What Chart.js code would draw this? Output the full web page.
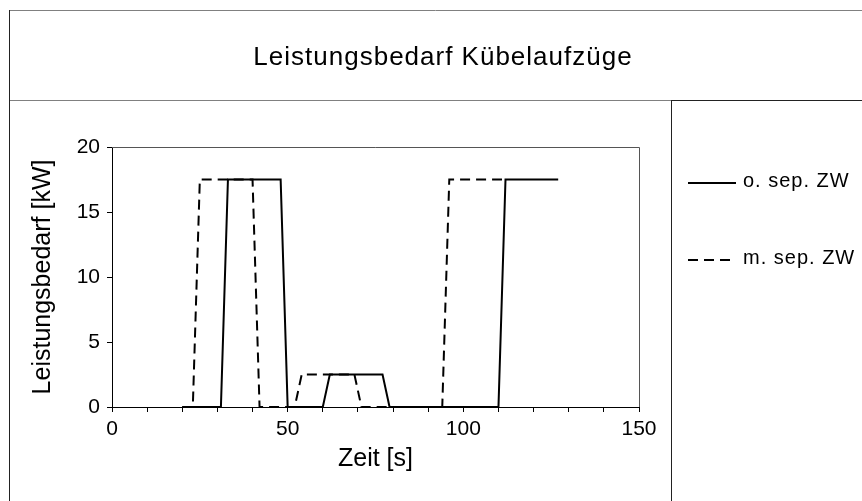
<!DOCTYPE html>
<html>
<head>
<meta charset="utf-8">
<script src="https://cdn.jsdelivr.net/npm/chart.js@4"></script>
<style>
  html, body { margin: 0; padding: 0; background: #fff; }
  canvas { display: block; }
</style>
</head>
<body>
<canvas id="powerChart" width="862" height="501"></canvas>
<script>
// values
const chartTitle = 'Leistungsbedarf Kübelaufzüge';
const seriesNames = ['o. sep. ZW', 'm. sep. ZW'];
const timeWithout = [20, 31, 33, 48, 50, 60, 62, 77, 79, 110, 112, 127];
const powerWithout = [0, 0, 17.5, 17.5, 0, 0, 2.5, 2.5, 0, 0, 17.5, 17.5];
const timeWith = [20, 23, 25, 40, 42, 52, 54, 69, 71, 94, 96, 111];
const powerWith = [0, 0, 17.5, 17.5, 0, 0, 2.5, 2.5, 0, 0, 17.5, 17.5];
const xTickLabels = [0, 50, 100, 150];
const yTicks = [0, 5, 10, 15, 20];

const fontFamily = "'Liberation Sans', Arial, sans-serif";

function toPoints(xs, ys) {
  return xs.map((x, i) => ({ x: x, y: ys[i] }));
}

// frame boxes, title, plot border and legend like the Excel export
const framePlugin = {
  id: 'frame',
  beforeDraw(chart) {
    const ctx = chart.ctx;
    ctx.save();
    ctx.fillStyle = '#fff';
    ctx.fillRect(0, 0, chart.width, chart.height);
    ctx.lineWidth = 1;
    ctx.strokeStyle = '#808080';
    ctx.beginPath();
    ctx.moveTo(9, 10.5); ctx.lineTo(chart.width, 10.5);
    ctx.moveTo(9, 100.5); ctx.lineTo(671, 100.5);
    ctx.stroke();
    ctx.strokeStyle = '#222';
    ctx.beginPath();
    ctx.moveTo(671, 100.5); ctx.lineTo(chart.width, 100.5);
    ctx.moveTo(9.5, 10); ctx.lineTo(9.5, chart.height);
    ctx.moveTo(671.5, 100); ctx.lineTo(671.5, chart.height);
    ctx.stroke();

    ctx.fillStyle = '#000';
    ctx.font = '26px ' + fontFamily;
    ctx.letterSpacing = '1px';
    ctx.textAlign = 'center';
    ctx.textBaseline = 'middle';
    ctx.fillText(chartTitle, 443, 58);
    ctx.restore();
  },
  afterDatasetsDraw(chart) {
    const ctx = chart.ctx;
    const a = chart.chartArea;
    ctx.save();
    ctx.strokeStyle = '#555';
    ctx.lineWidth = 1;
    ctx.beginPath();
    ctx.moveTo(a.left, Math.round(a.top) + 0.5);
    ctx.lineTo(Math.round(a.right) + 0.5, Math.round(a.top) + 0.5);
    ctx.lineTo(Math.round(a.right) + 0.5, a.bottom);
    ctx.stroke();

    // legend in the right hand box
    const rows = [183, 260];
    chart.data.datasets.forEach((ds, i) => {
      const y = rows[i];
      ctx.strokeStyle = ds.borderColor;
      ctx.lineWidth = ds.borderWidth;
      ctx.setLineDash(ds.borderDash || []);
      ctx.beginPath();
      ctx.moveTo(688, y);
      ctx.lineTo(736, y);
      ctx.stroke();
      ctx.setLineDash([]);
      ctx.fillStyle = '#000';
      ctx.font = '20px ' + fontFamily;
      ctx.letterSpacing = '1px';
      ctx.textAlign = 'left';
      ctx.textBaseline = 'middle';
      ctx.fillText(ds.label, 743, y - 2);
    });
    ctx.restore();
  }
};

new Chart(document.getElementById('powerChart'), {
  type: 'line',
  data: {
    datasets: [
      {
        label: seriesNames[0],
        data: toPoints(timeWithout, powerWithout),
        borderColor: '#000',
        borderWidth: 2,
        pointRadius: 0,
        tension: 0,
        fill: false
      },
      {
        label: seriesNames[1],
        data: toPoints(timeWith, powerWith),
        borderColor: '#000',
        borderWidth: 2,
        borderDash: [10, 6],
        pointRadius: 0,
        tension: 0,
        fill: false
      }
    ]
  },
  options: {
    responsive: false,
    animation: false,
    events: [],
    layout: { padding: { left: 12, right: 223, top: 147, bottom: 14 } },
    plugins: {
      legend: { display: false },
      title: { display: false },
      tooltip: { enabled: false }
    },
    scales: {
      x: {
        type: 'linear',
        min: 0,
        max: 150,
        afterFit: s => { s.height = 80; },
        border: { display: true, color: '#000', width: 1 },
        grid: { drawOnChartArea: false, drawTicks: true, tickLength: 5, color: '#000' },
        ticks: {
          stepSize: 10,
          autoSkip: false,
          maxRotation: 0,
          padding: 5,
          color: '#000',
          font: { family: fontFamily, size: 21 },
          callback: v => xTickLabels.includes(v) ? String(v) : ''
        },
        title: {
          display: true,
          text: 'Zeit [s]',
          color: '#000',
          font: { family: fontFamily, size: 25 },
          padding: { top: 0, bottom: 13 }
        }
      },
      y: {
        min: 0,
        max: 20,
        afterFit: s => { s.width = 100; },
        afterBuildTicks: s => { s.ticks = yTicks.map(v => ({ value: v })); },
        border: { display: true, color: '#000', width: 1 },
        grid: { drawOnChartArea: false, drawTicks: true, tickLength: 5, color: '#000' },
        ticks: {
          padding: 7,
          color: '#000',
          font: { family: fontFamily, size: 21 }
        },
        title: {
          display: true,
          text: 'Leistungsbedarf [kW]',
          color: '#000',
          font: { family: fontFamily, size: 25 },
          padding: { top: 16, bottom: 0 }
        }
      }
    }
  },
  plugins: [framePlugin]
});
</script>
</body>
</html>
